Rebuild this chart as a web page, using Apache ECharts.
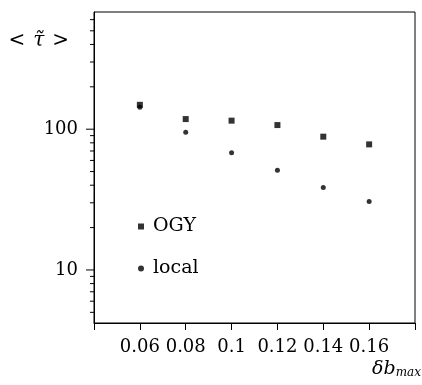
<!DOCTYPE html>
<html>
<head>
<meta charset="utf-8">
<script src="https://cdn.jsdelivr.net/npm/echarts@6/dist/echarts.min.js"></script>
<style>
  html, body { margin: 0; padding: 0; background: #fff; }
  #main { width: 422px; height: 385px; }
</style>
</head>
<body>
<div id="main"></div>
<script>
// data
const db = [0.06, 0.08, 0.1, 0.12, 0.14, 0.16]
const ogy = [149, 118, 115, 107, 88.5, 78]
const local = [143, 95, 68, 51, 38.5, 30.6]
const yMajorTicks = [10, 100]
const yMinorTicks = [5, 6, 7, 8, 9, 20, 30, 40, 50, 60, 70, 80, 90, 200, 300, 400, 500, 600]

const X_MIN = 0.04
const X_MAX = 0.18
const FONT = 'DejaVu Serif'

const chartDom = document.getElementById('main')
const myChart = echarts.init(chartDom, null, { renderer: 'canvas' })

// ticks on the left axis, drawn at data values via the axis scale
function tickSeries(values, len) {
  return {
    type: 'custom',
    silent: true,
    clip: false,
    encode: { x: 0, y: 1 },
    data: values.map(v => [X_MIN, v]),
    renderItem: function (params, api) {
      const p = api.coord([api.value(0), api.value(1)])
      return {
        type: 'line',
        shape: { x1: p[0] - len, y1: p[1], x2: p[0], y2: p[1] },
        style: { stroke: '#000', lineWidth: 1 },
      }
    },
  }
}

const legendText = { fontFamily: FONT, fontSize: 19, color: '#000', padding: [0, 0, 0, 4] }

let option = {
  backgroundColor: '#fff',
  animation: false,
  grid: {
    left: 94,
    right: 7,
    top: 12,
    bottom: 62,
    outerBoundsMode: 'none',
    containLabel: false,
    show: true,
    borderColor: '#000',
    borderWidth: 1,
    backgroundColor: 'transparent',
  },
  legend: [
    {
      data: ['OGY'],
      left: 138,
      top: 217,
      padding: 0,
      itemWidth: 6,
      itemHeight: 6,
      textStyle: legendText,
    },
    {
      data: ['local'],
      left: 138,
      top: 259,
      padding: 0,
      itemWidth: 6,
      itemHeight: 6,
      textStyle: legendText,
    },
  ],
  xAxis: {
    type: 'value',
    min: X_MIN,
    max: X_MAX,
    interval: 0.02,
    name: '{i|δb}{s|max}',
    nameLocation: 'end',
    nameGap: 6,
    nameTextStyle: {
      align: 'right',
      verticalAlign: 'top',
      padding: [36, 0, 0, 0],
      rich: {
        i: { fontFamily: FONT, fontSize: 19, fontStyle: 'italic', color: '#000' },
        s: { fontFamily: FONT, fontSize: 12, fontStyle: 'italic', color: '#000', padding: [8, 0, 0, 0] },
      },
    },
    axisLine: { show: true, lineStyle: { color: '#000', width: 1 } },
    axisTick: { show: true, inside: false, length: 7, lineStyle: { color: '#000' } },
    splitLine: { show: false },
    axisLabel: {
      margin: 15,
      fontFamily: FONT,
      fontSize: 18,
      color: '#000',
      formatter: function (v) {
        if (v < 0.05 || v > 0.17) return ''
        return String(+v.toFixed(2))
      },
    },
  },
  yAxis: {
    type: 'log',
    logBase: 10,
    min: 4.2,
    max: 680,
    name: '{a|<}{b|τ̃}{a|>}',
    nameLocation: 'end',
    nameGap: -29,
    nameTextStyle: {
      align: 'right',
      verticalAlign: 'middle',
      padding: [0, 25, 0, 0],
      rich: {
        a: { fontFamily: FONT, fontSize: 20, color: '#000' },
        b: { fontFamily: FONT, fontSize: 20, fontStyle: 'italic', color: '#000', padding: [0, 8, 0, 8] },
      },
    },
    axisLine: { show: true, lineStyle: { color: '#000', width: 1 } },
    axisTick: { show: false },
    splitLine: { show: false },
    axisLabel: {
      margin: 16,
      fontFamily: FONT,
      fontSize: 18,
      color: '#000',
      showMinLabel: false,
      showMaxLabel: false,
      formatter: function (v) {
        const r = Math.round(v)
        return yMajorTicks.indexOf(r) >= 0 ? String(r) : ''
      },
    },
  },
  series: [
    {
      name: 'OGY',
      type: 'scatter',
      symbol: 'rect',
      symbolSize: 6,
      itemStyle: { color: '#000' },
      data: db.map((x, i) => [x, ogy[i]]),
    },
    {
      name: 'local',
      type: 'scatter',
      symbol: 'circle',
      symbolSize: 5,
      itemStyle: { color: '#000' },
      data: db.map((x, i) => [x, local[i]]),
    },
    tickSeries(yMajorTicks, 8),
    tickSeries(yMinorTicks, 4),
  ],
}
myChart.setOption(option)
</script>
</body>
</html>
